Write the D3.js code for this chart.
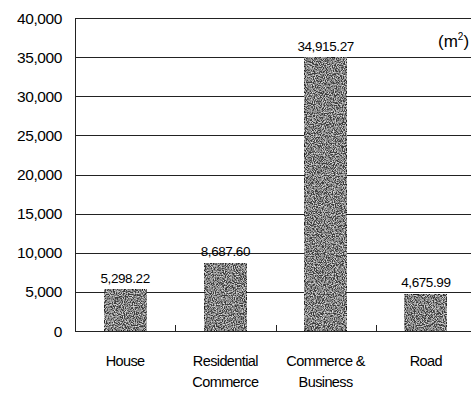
<!DOCTYPE html>
<html><head><meta charset="utf-8">
<script src="https://cdn.jsdelivr.net/npm/d3@7"></script>
<style>
html,body{margin:0;padding:0;background:#fff;}
text{font-family:"Liberation Sans",Arial,sans-serif;fill:#000;}
</style></head>
<body>
<svg id="c" width="473" height="394"></svg>
<script>
const categories = [["House"], ["Residential","Commerce"], ["Commerce &","Business"], ["Road"]];
const values = [5298.22, 8687.60, 34915.27, 4675.99];
const valueLabels = ["5,298.22", "8,687.60", "34,915.27", "4,675.99"];
const yTicks = [0,5000,10000,15000,20000,25000,30000,35000,40000];

const svg = d3.select("#c");
const defs = svg.append("defs");
const f = defs.append("filter").attr("id","noise").attr("x",0).attr("y",0).attr("width","100%").attr("height","100%");
f.append("feTurbulence").attr("type","fractalNoise").attr("baseFrequency","0.9").attr("numOctaves",2).attr("seed",3).attr("result","t");
f.append("feColorMatrix").attr("in","t").attr("type","matrix")
 .attr("values","0 0 0 0 0.8  0 0 0 0 0.8  0 0 0 0 0.8  0 0 0 -2.4 1.45").attr("result","n");
f.append("feComposite").attr("in","n").attr("in2","SourceGraphic").attr("operator","in").attr("result","m");
const mg = f.append("feMerge");
mg.append("feMergeNode").attr("in","SourceGraphic");
mg.append("feMergeNode").attr("in","m");

const x = d3.scaleBand().domain(d3.range(categories.length)).range([75, 476]).paddingInner(0).paddingOuter(0);
const y = d3.scaleLinear().domain([0,40000]).range([331, 18]);
const bw = 42;

// gridlines
svg.append("g").selectAll("line").data(yTicks).join("line")
  .attr("x1",75).attr("x2",471).attr("y1",d=>Math.round(y(d))+0.5).attr("y2",d=>Math.round(y(d))+0.5)
  .attr("stroke","#222").attr("stroke-width",1);

// left axis
svg.append("line").attr("x1",75.5).attr("x2",75.5).attr("y1",y(40000)).attr("y2",y(0)+1).attr("stroke","#222");

// y tick labels
svg.append("g").selectAll("text").data(yTicks).join("text")
  .attr("x",62).attr("y",d=>y(d)).attr("dy","0.36em").attr("text-anchor","end")
  .style("font-size","15.5px").style("letter-spacing","-0.4px")
  .text(d=>d3.format(",")(d));

// category boundary ticks
svg.append("g").selectAll("line").data(d3.range(1,categories.length)).join("line")
  .attr("x1",d=>Math.round(x(d))+0.5).attr("x2",d=>Math.round(x(d))+0.5)
  .attr("y1",y(0)).attr("y2",y(0)-6).attr("stroke","#222");

// bars
svg.append("g").selectAll("rect").data(values).join("rect")
  .attr("x",(d,i)=>x(i)+x.bandwidth()/2-bw/2).attr("width",bw)
  .attr("y",d=>y(d)).attr("height",d=>y(0)-y(d))
  .attr("fill","#3e3e3e").attr("stroke","#111").attr("stroke-width",1)
  .attr("filter","url(#noise)");

// value labels
svg.append("g").selectAll("text").data(values).join("text")
  .attr("x",(d,i)=>x(i)+x.bandwidth()/2).attr("y",d=>y(d)-7).attr("text-anchor","middle")
  .style("font-size","13.5px").style("letter-spacing","-0.4px")
  .text((d,i)=>valueLabels[i]);

// category labels
const cg = svg.append("g").selectAll("text").data(categories).join("text")
  .attr("x",(d,i)=>x(i)+x.bandwidth()/2).attr("y",366).attr("text-anchor","middle")
  .style("font-size","14.5px").style("letter-spacing","-0.6px");
cg.selectAll("tspan").data(d=>d).join("tspan")
  .attr("x",function(){return this.parentNode.getAttribute("x");})
  .attr("dy",(d,i)=>i===0?0:21).text(d=>d);

// unit
const u = svg.append("text").attr("x",438).attr("y",47).style("font-size","17px");
u.append("tspan").text("(m");
u.append("tspan").attr("dy",-7).style("font-size","10px").text("2");
u.append("tspan").attr("dy",7).text(")");
</script>
</body></html>
